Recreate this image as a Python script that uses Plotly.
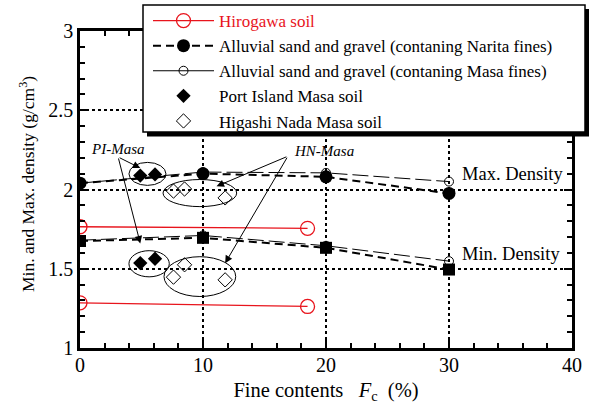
import plotly.graph_objects as go

# ---- data ----
hiro_x = [0, 18.5]
hiro_max = [1.765, 1.755]
hiro_min = [1.285, 1.262]

narita_x = [0, 10, 20, 30]
narita_max = [2.04, 2.10, 2.08, 1.975]
narita_min = [1.675, 1.695, 1.632, 1.495]

masa_x = [0, 10, 20, 30]
masa_max = [2.04, 2.11, 2.105, 2.05]
masa_min = [1.68, 1.71, 1.645, 1.548]

pi_x = [4.9, 6.1]
pi_max = [2.088, 2.095]
pi_min = [1.536, 1.563]

hn_x = [7.6, 8.5, 11.8]
hn_max = [1.99, 2.003, 1.947]
hn_min = [1.447, 1.525, 1.43]

x_ticks = [0, 10, 20, 30, 40]
y_ticks = [1, 1.5, 2, 2.5, 3]
y_ticktext = ["1", "1.5", "2", "2.5", "3"]

FONT = "Liberation Serif"
RED = "#e8141c"
NARITA_DASH = "8px,5px"
MASA_DASH = "16px,5px"

fig = go.Figure()

# Hirogawa
fig.add_trace(go.Scatter(x=hiro_x, y=hiro_max, mode="lines+markers",
    name=f'<span style="color:{RED}">Hirogawa soil</span>',
    line=dict(color=RED, width=1.3),
    marker=dict(symbol="circle-open", size=14, color=RED, line=dict(width=1.3))))
fig.add_trace(go.Scatter(x=hiro_x, y=hiro_min, mode="lines+markers", showlegend=False,
    line=dict(color=RED, width=1.3),
    marker=dict(symbol="circle-open", size=14, color=RED, line=dict(width=1.3))))

# Masa fines (thin long dash, small open circles)
fig.add_trace(go.Scatter(x=masa_x, y=masa_max, mode="lines+markers", showlegend=False,
    line=dict(color="black", width=1, dash=MASA_DASH),
    marker=dict(symbol="circle-open", size=9, color="black", line=dict(width=1))))
fig.add_trace(go.Scatter(x=masa_x, y=masa_min, mode="lines+markers", showlegend=False,
    line=dict(color="black", width=1, dash=MASA_DASH),
    marker=dict(symbol="circle-open", size=9, color="black", line=dict(width=1))))

# Narita fines
fig.add_trace(go.Scatter(x=narita_x, y=narita_max, mode="lines+markers",
    name="Alluvial sand and gravel (contaning Narita fines)",
    line=dict(color="black", width=2, dash=NARITA_DASH),
    marker=dict(symbol="circle", size=13, color="black")))
fig.add_trace(go.Scatter(x=narita_x, y=narita_min, mode="lines+markers", showlegend=False,
    line=dict(color="black", width=2, dash=NARITA_DASH),
    marker=dict(symbol="square", size=12, color="black")))

# legend-only entry for Masa
fig.add_trace(go.Scatter(x=[None], y=[None], mode="lines+markers",
    name="Alluvial sand and gravel (contaning Masa fines)",
    line=dict(color="black", width=1),
    marker=dict(symbol="circle-open", size=9, color="black", line=dict(width=1))))

# Port Island
fig.add_trace(go.Scatter(x=pi_x, y=pi_max, mode="markers", name="Port Island Masa soil",
    marker=dict(symbol="diamond", size=11, color="black")))
fig.add_trace(go.Scatter(x=pi_x, y=pi_min, mode="markers", showlegend=False,
    marker=dict(symbol="diamond", size=11, color="black")))

# Higashi Nada
fig.add_trace(go.Scatter(x=hn_x, y=hn_max, mode="markers", name="Higashi Nada Masa soil",
    marker=dict(symbol="diamond-open", size=11, color="black", line=dict(width=1))))
fig.add_trace(go.Scatter(x=hn_x, y=hn_min, mode="markers", showlegend=False,
    marker=dict(symbol="diamond-open", size=11, color="black", line=dict(width=1))))

# ellipses around the Masa groups
for (x0, x1, y0, y1) in [(3.98, 6.99, 2.026, 2.171), (6.75, 12.74, 1.892, 2.063),
                         (3.98, 7.26, 1.449, 1.614), (6.83, 12.66, 1.325, 1.576)]:
    fig.add_shape(type="circle", xref="x", yref="y", x0=x0, x1=x1, y0=y0, y1=y1,
                  line=dict(color="black", width=1))

# legend frame with drop shadow (plot area: 492 x 317 px)
PW, PH = 492.0, 317.0
def px_x(p):
    return (p - 80) / PW
def px_y(p):
    return (348 - p) / PH
fig.add_shape(type="rect", xref="paper", yref="paper",
              x0=px_x(147), x1=px_x(589), y0=px_y(136.5), y1=px_y(9),
              fillcolor="black", line=dict(width=0), layer="above")
fig.add_shape(type="rect", xref="paper", yref="paper",
              x0=px_x(143), x1=px_x(585), y0=px_y(132), y1=px_y(5),
              fillcolor="white", line=dict(color="black", width=1.5), layer="above")

annots = []
for (tx, ty, hx, hy) in [(3.1, 2.205, 4.9, 2.135), (3.1, 2.205, 4.9, 1.66),
                         (16.9, 2.21, 11.1, 2.02), (16.9, 2.21, 11.8, 1.535)]:
    annots.append(dict(x=hx, y=hy, ax=tx, ay=ty, xref="x", yref="y", axref="x", ayref="y",
                       text="", showarrow=True, arrowhead=2, arrowsize=1.5, arrowwidth=1,
                       arrowcolor="black"))
annots.append(dict(x=3.1, y=2.255, xref="x", yref="y", text="<i>PI-Masa</i>", showarrow=False,
                   font=dict(family=FONT, size=15, color="black")))
annots.append(dict(x=19.8, y=2.24, xref="x", yref="y", text="<i>HN-Masa</i>", showarrow=False,
                   font=dict(family=FONT, size=15, color="black")))
annots.append(dict(x=30.9, y=2.095, xref="x", yref="y", text="Max. Density", showarrow=False,
                   xanchor="left", font=dict(family=FONT, size=18.5, color="black")))
annots.append(dict(x=30.9, y=1.595, xref="x", yref="y", text="Min. Density", showarrow=False,
                   xanchor="left", font=dict(family=FONT, size=18.5, color="black")))
# y-axis title
annots.append(dict(x=px_x(27), y=px_y(184), xref="paper", yref="paper",
                   text="Min. and Max. density (g/cm<sup>3</sup>)", textangle=-90,
                   showarrow=False, xanchor="center", yanchor="middle",
                   font=dict(family=FONT, size=17.5, color="black")))

fig.update_layout(
    width=590, height=412,
    margin=dict(l=80, r=18, t=31, b=64, autoexpand=False),
    plot_bgcolor="white", paper_bgcolor="white",
    font=dict(family=FONT, size=19, color="black"),
    annotations=annots,
    showlegend=True,
    legend=dict(x=px_x(148), y=px_y(3), xanchor="left", yanchor="top",
                bgcolor="rgba(0,0,0,0)", borderwidth=0,
                font=dict(family=FONT, size=17, color="black"),
                tracegroupgap=0, itemwidth=61),
    xaxis=dict(range=[0, 40], tickvals=x_ticks, ticks="inside", ticklen=8,
               tickwidth=1.5, tickcolor="black", mirror="ticks", showline=True,
               linecolor="black", linewidth=2.5, showgrid=True, gridcolor="black",
               griddash="dot", gridwidth=2, zeroline=False, automargin=False,
               tickfont=dict(size=20), ticklabelstandoff=-3,
               minor=dict(dtick=2, ticks="inside", ticklen=5, tickwidth=1.5, tickcolor="black", showgrid=False),
               title=dict(text="Fine contents&nbsp;&nbsp; <i>F</i><sub>c</sub>&nbsp; (%)",
                          font=dict(size=20.5), standoff=8)),
    yaxis=dict(range=[1, 3], tickvals=y_ticks, ticktext=y_ticktext,
               ticks="inside", ticklen=8, tickwidth=1.5, tickcolor="black", mirror="ticks",
               showline=True, linecolor="black", linewidth=2.5, showgrid=True, gridcolor="black",
               griddash="dot", gridwidth=2, zeroline=False, automargin=False,
               tickfont=dict(size=20),
               minor=dict(dtick=0.1, ticks="inside", ticklen=5, tickwidth=1.5, tickcolor="black", showgrid=False)),
)

fig.write_html("out.html", config={"displayModeBar": False},
               post_script="document.body.style.margin='0px';")
